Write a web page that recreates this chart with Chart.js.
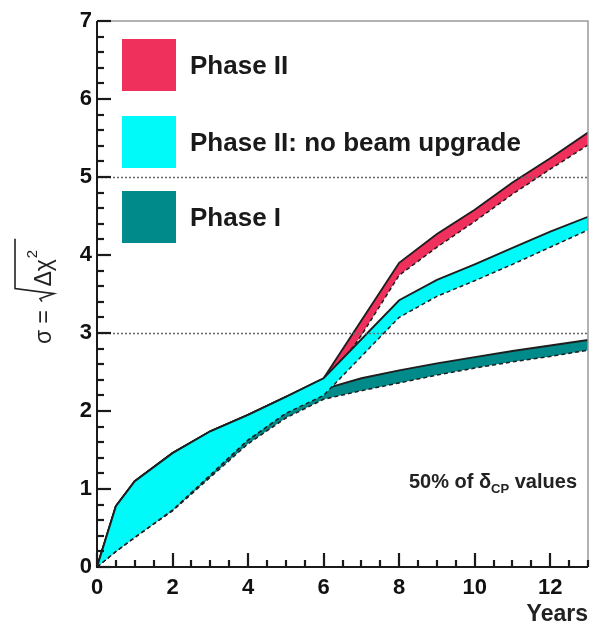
<!DOCTYPE html>
<html>
<head>
<meta charset="utf-8">
<script src="https://cdn.jsdelivr.net/npm/chart.js@4.4.1/dist/chart.umd.min.js"></script>
<style>
  html, body { margin: 0; padding: 0; background: #ffffff; }
  #c { display: block; }
</style>
</head>
<body>
<canvas id="c" width="592" height="624"></canvas>
<script>
// ---- data ----
const years = [0, 0.5, 1, 2, 3, 4, 5, 6, 7, 8, 9, 10, 11, 12, 13];

const phase2Upper = [0, 0.78, 1.10, 1.46, 1.74, 1.95, 2.18, 2.42, 3.16, 3.90, 4.27, 4.58, 4.93, 5.24, 5.57];
const phase2Lower = [0, 0.20, 0.38, 0.73, 1.18, 1.63, 1.97, 2.30, 2.97, 3.74, 4.10, 4.43, 4.78, 5.10, 5.41];

const noBeamUpper = [0, 0.78, 1.10, 1.46, 1.74, 1.95, 2.18, 2.42, 2.92, 3.42, 3.68, 3.88, 4.09, 4.30, 4.49];
const noBeamLower = [0, 0.20, 0.38, 0.73, 1.18, 1.63, 1.97, 2.20, 2.70, 3.20, 3.47, 3.67, 3.88, 4.10, 4.32];

const phase1Upper = [0, 0.78, 1.10, 1.46, 1.74, 1.95, 2.18, 2.28, 2.42, 2.52, 2.61, 2.69, 2.77, 2.84, 2.91];
const phase1Lower = [0, 0.20, 0.38, 0.72, 1.15, 1.58, 1.91, 2.15, 2.26, 2.36, 2.46, 2.55, 2.63, 2.70, 2.78];

const legendLabels = ['Phase II', 'Phase II: no beam upgrade', 'Phase I'];
const bandColors = ['rgb(240,48,92)', 'rgb(0,250,250)', 'rgb(0,138,138)'];
const referenceLevels = [3, 5];
const xTickStep = 2, xMinorStep = 0.5;
const yTickStep = 1, yMinorStep = 0.2;

// ---- build ----
const FONT = '"Liberation Sans", Arial, Helvetica, sans-serif';
Chart.defaults.font.family = FONT;
const pts = arr => years.map((x, i) => ({ x: x, y: arr[i] }));
const edge = '#1e1e1e';

function band(label, upper, lower, color, idxLower, orderBase) {
  return [
    { label: label, data: pts(upper), borderColor: edge, borderWidth: 1.9, backgroundColor: color,
      fill: { target: idxLower }, pointRadius: 0, tension: 0, order: orderBase + 1 },
    { label: label + ' (low)', data: pts(lower), borderColor: edge, borderWidth: 1.5, borderDash: [4, 3],
      backgroundColor: color, fill: false, pointRadius: 0, tension: 0, order: orderBase }
  ];
}

const datasets = [].concat(
  band(legendLabels[1], noBeamUpper, noBeamLower, bandColors[1], 1, 0),
  band(legendLabels[0], phase2Upper, phase2Lower, bandColors[0], 3, 2),
  band(legendLabels[2], phase1Upper, phase1Lower, bandColors[2], 5, 4)
);

const decorPlugin = {
  id: 'decor',
  afterDraw(chart) {
    const ctx = chart.ctx, a = chart.chartArea;
    const xs = chart.scales.x, ys = chart.scales.y;
    ctx.save();
    // dotted reference lines
    ctx.strokeStyle = '#666'; ctx.lineWidth = 1.5; ctx.setLineDash([2, 2]);
    referenceLevels.forEach(v => {
      const y = Math.round(ys.getPixelForValue(v)) + 0.5;
      ctx.beginPath(); ctx.moveTo(a.left, y); ctx.lineTo(a.right, y); ctx.stroke();
    });
    ctx.setLineDash([]);
    // frame
    ctx.strokeStyle = '#9a9a9a'; ctx.lineWidth = 1.5;
    ctx.beginPath(); ctx.moveTo(a.left, a.top); ctx.lineTo(a.right, a.top); ctx.lineTo(a.right, a.bottom); ctx.stroke();
    ctx.strokeStyle = '#1a1a1a'; ctx.lineWidth = 2;
    ctx.beginPath(); ctx.moveTo(a.left, a.top); ctx.lineTo(a.left, a.bottom); ctx.lineTo(a.right, a.bottom); ctx.stroke();
    // ticks (inside, ROOT style)
    ctx.strokeStyle = '#1a1a1a'; ctx.lineWidth = 2.2;
    const nx = Math.round((xs.max - xs.min) / xMinorStep);
    for (let i = 0; i <= nx; i++) {
      const v = xs.min + i * xMinorStep;
      const major = (i % Math.round(xTickStep / xMinorStep)) === 0;
      const x = Math.round(xs.getPixelForValue(v));
      ctx.beginPath(); ctx.moveTo(x, a.bottom); ctx.lineTo(x, a.bottom - (major ? 14 : 7)); ctx.stroke();
    }
    const ny = Math.round((ys.max - ys.min) / yMinorStep);
    for (let i = 0; i <= ny; i++) {
      const v = ys.min + i * yMinorStep;
      const major = (i % Math.round(yTickStep / yMinorStep)) === 0;
      const y = Math.round(ys.getPixelForValue(v));
      ctx.beginPath(); ctx.moveTo(a.left, y); ctx.lineTo(a.left + (major ? 14 : 7), y); ctx.stroke();
    }
    // legend
    const boxTops = [39, 116, 191];
    ctx.textAlign = 'left'; ctx.textBaseline = 'alphabetic';
    ctx.font = 'bold 26px ' + FONT;
    [0, 1, 2].forEach((k, i) => {
      ctx.fillStyle = bandColors[k];
      ctx.fillRect(122, boxTops[i], 54, 52);
      ctx.fillStyle = '#1a1a1a';
      ctx.fillText(legendLabels[k], 190, boxTops[i] + 35);
    });
    // annotation "50% of δCP values"
    const big = 'bold 20px ' + FONT, small = 'bold 13px ' + FONT;
    const p1 = '50% of \u03B4', p2 = 'CP', p3 = ' values';
    ctx.font = big; const w1 = ctx.measureText(p1).width, w3 = ctx.measureText(p3).width;
    ctx.font = small; const w2 = ctx.measureText(p2).width;
    const x0 = 577 - (w1 + w2 + w3);
    const base = 488;
    ctx.fillStyle = '#222';
    ctx.font = big; ctx.fillText(p1, x0, base);
    ctx.font = small; ctx.fillText(p2, x0 + w1, base + 5);
    ctx.font = big; ctx.fillText(p3, x0 + w1 + w2, base);
    // x axis title
    ctx.font = 'bold 23px ' + FONT; ctx.textAlign = 'right';
    ctx.fillText('Years', 588, 621);
    // y axis title: σ = sqrt(Δχ²)
    ctx.translate(51, 344); ctx.rotate(-Math.PI / 2);
    ctx.textAlign = 'left';
    ctx.font = '23px ' + FONT; ctx.fillStyle = '#222';
    const s1 = '\u03C3 = ';
    ctx.fillText(s1, 0, 0);
    const ws = ctx.measureText(s1).width;
    const inner = '\u0394\u03C7';
    const rx = ws + 2;
    const wi = ctx.measureText(inner).width;
    ctx.font = '15px ' + FONT; const w2s = ctx.measureText('2').width;
    ctx.strokeStyle = '#222'; ctx.lineWidth = 1.6;
    ctx.beginPath();
    ctx.moveTo(rx, -9); ctx.lineTo(rx + 3, -11); ctx.lineTo(rx + 8, 3); ctx.lineTo(rx + 13, -36);
    ctx.lineTo(rx + 13 + wi + w2s + 14, -36);
    ctx.stroke();
    ctx.font = '23px ' + FONT; ctx.fillText(inner, rx + 15, 0);
    ctx.font = '15px ' + FONT; ctx.fillText('2', rx + 15 + wi + 1, -14);
    ctx.restore();
  }
};

new Chart(document.getElementById('c'), {
  type: 'line',
  data: { datasets: datasets },
  options: {
    responsive: false,
    animation: false,
    layout: { padding: { top: 21, right: 4, left: 0, bottom: 0 } },
    plugins: { legend: { display: false }, tooltip: { enabled: false } },
    scales: {
      x: {
        type: 'linear', min: 0, max: 13,
        grid: { display: false, drawTicks: false },
        border: { display: false },
        ticks: { stepSize: xTickStep, includeBounds: false, padding: 8, maxRotation: 0,
                 color: '#111', font: { size: 22, weight: 'bold' } },
        afterFit: s => { s.height = 57; }
      },
      y: {
        type: 'linear', min: 0, max: 7,
        grid: { display: false, drawTicks: false },
        border: { display: false },
        ticks: { stepSize: yTickStep, padding: 5, color: '#111', font: { size: 22, weight: 'bold' } },
        afterFit: s => { s.width = 97; }
      }
    }
  },
  plugins: [decorPlugin]
});
</script>
</body>
</html>
